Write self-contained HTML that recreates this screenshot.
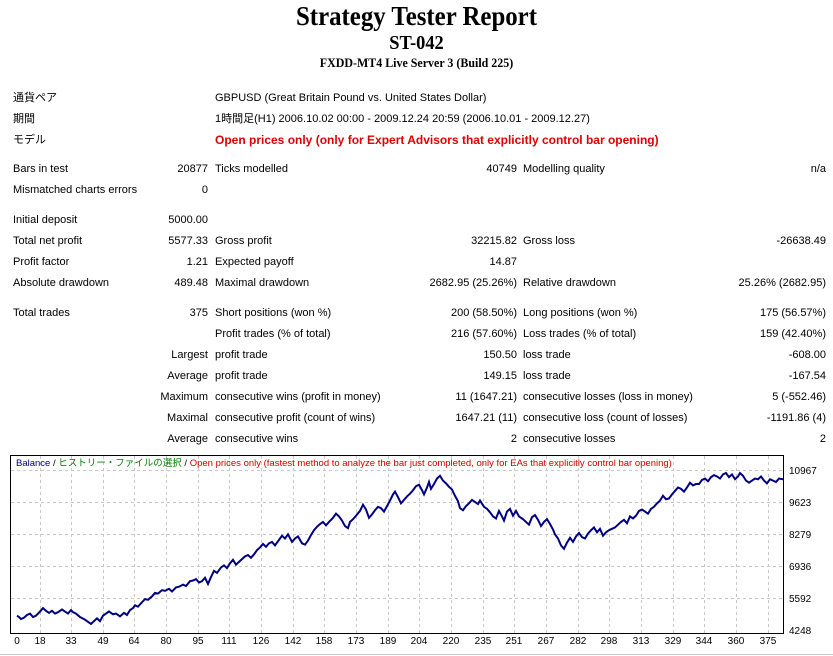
<!DOCTYPE html>
<html><head><meta charset="utf-8"><style>
body{margin:0;width:833px;height:656px;background:#fff;position:relative;overflow:hidden;font-family:"Liberation Sans","Noto Sans CJK JP",sans-serif;font-size:11px;color:#000}
.t{position:absolute;white-space:nowrap;line-height:13px}
.r{text-align:right}
.h{position:absolute;left:0;width:833px;text-align:center;font-family:"Liberation Serif",serif;font-weight:bold;white-space:nowrap}
</style></head><body>
<div class="h" style="top:1px;font-size:27px;line-height:30px;transform:scaleX(0.92)">Strategy Tester Report</div>
<div class="h" style="top:32px;font-size:20px;line-height:22px;transform:scaleX(0.92)">ST-042</div>
<div class="h" style="top:55px;font-size:13px;line-height:15px;transform:scaleX(0.92)">FXDD-MT4 Live Server 3 (Build 225)</div>

<div class="t" style="left:13px;top:92px">通貨ペア</div>
<div class="t" style="left:215px;top:92px">GBPUSD (Great Britain Pound vs. United States Dollar)</div>
<div class="t" style="left:13px;top:113px">期間</div>
<div class="t" style="left:215px;top:113px">1時間足(H1) 2006.10.02 00:00 - 2009.12.24 20:59 (2006.10.01 - 2009.12.27)</div>
<div class="t" style="left:13px;top:134px">モデル</div>
<div class="t" style="left:215px;top:134px;color:#e00000;font-weight:bold;font-size:12px">Open prices only (only for Expert Advisors that explicitly control bar opening)</div>

<div class="t" style="left:13px;top:163px">Bars in test</div><div class="t r" style="right:625px;top:163px">20877</div>
<div class="t" style="left:215px;top:163px">Ticks modelled</div><div class="t r" style="right:316px;top:163px">40749</div>
<div class="t" style="left:523px;top:163px">Modelling quality</div><div class="t r" style="right:7px;top:163px">n/a</div>
<div class="t" style="left:13px;top:184px">Mismatched charts errors</div><div class="t r" style="right:625px;top:184px">0</div>

<div class="t" style="left:13px;top:214px">Initial deposit</div><div class="t r" style="right:625px;top:214px">5000.00</div>
<div class="t" style="left:13px;top:235px">Total net profit</div><div class="t r" style="right:625px;top:235px">5577.33</div>
<div class="t" style="left:215px;top:235px">Gross profit</div><div class="t r" style="right:316px;top:235px">32215.82</div>
<div class="t" style="left:523px;top:235px">Gross loss</div><div class="t r" style="right:7px;top:235px">-26638.49</div>
<div class="t" style="left:13px;top:256px">Profit factor</div><div class="t r" style="right:625px;top:256px">1.21</div>
<div class="t" style="left:215px;top:256px">Expected payoff</div><div class="t r" style="right:316px;top:256px">14.87</div>
<div class="t" style="left:13px;top:277px">Absolute drawdown</div><div class="t r" style="right:625px;top:277px">489.48</div>
<div class="t" style="left:215px;top:277px">Maximal drawdown</div><div class="t r" style="right:316px;top:277px">2682.95 (25.26%)</div>
<div class="t" style="left:523px;top:277px">Relative drawdown</div><div class="t r" style="right:7px;top:277px">25.26% (2682.95)</div>

<div class="t" style="left:13px;top:307px">Total trades</div><div class="t r" style="right:625px;top:307px">375</div>
<div class="t" style="left:215px;top:307px">Short positions (won %)</div><div class="t r" style="right:316px;top:307px">200 (58.50%)</div>
<div class="t" style="left:523px;top:307px">Long positions (won %)</div><div class="t r" style="right:7px;top:307px">175 (56.57%)</div>
<div class="t" style="left:215px;top:328px">Profit trades (% of total)</div><div class="t r" style="right:316px;top:328px">216 (57.60%)</div>
<div class="t" style="left:523px;top:328px">Loss trades (% of total)</div><div class="t r" style="right:7px;top:328px">159 (42.40%)</div>
<div class="t r" style="right:625px;top:349px">Largest</div>
<div class="t" style="left:215px;top:349px">profit trade</div><div class="t r" style="right:316px;top:349px">150.50</div>
<div class="t" style="left:523px;top:349px">loss trade</div><div class="t r" style="right:7px;top:349px">-608.00</div>
<div class="t r" style="right:625px;top:370px">Average</div>
<div class="t" style="left:215px;top:370px">profit trade</div><div class="t r" style="right:316px;top:370px">149.15</div>
<div class="t" style="left:523px;top:370px">loss trade</div><div class="t r" style="right:7px;top:370px">-167.54</div>
<div class="t r" style="right:625px;top:391px">Maximum</div>
<div class="t" style="left:215px;top:391px">consecutive wins (profit in money)</div><div class="t r" style="right:316px;top:391px">11 (1647.21)</div>
<div class="t" style="left:523px;top:391px">consecutive losses (loss in money)</div><div class="t r" style="right:7px;top:391px">5 (-552.46)</div>
<div class="t r" style="right:625px;top:412px">Maximal</div>
<div class="t" style="left:215px;top:412px">consecutive profit (count of wins)</div><div class="t r" style="right:316px;top:412px">1647.21 (11)</div>
<div class="t" style="left:523px;top:412px">consecutive loss (count of losses)</div><div class="t r" style="right:7px;top:412px">-1191.86 (4)</div>
<div class="t r" style="right:625px;top:433px">Average</div>
<div class="t" style="left:215px;top:433px">consecutive wins</div><div class="t r" style="right:316px;top:433px">2</div>
<div class="t" style="left:523px;top:433px">consecutive losses</div><div class="t r" style="right:7px;top:433px">2</div>

<svg style="position:absolute;left:0;top:0" width="833" height="656">
<g stroke="#c8c8c8" stroke-dasharray="3,3" stroke-width="1">
<line x1="11" x2="783" y1="470.5" y2="470.5"/><line x1="11" x2="783" y1="502.5" y2="502.5"/><line x1="11" x2="783" y1="534.5" y2="534.5"/><line x1="11" x2="783" y1="566.5" y2="566.5"/><line x1="11" x2="783" y1="598.5" y2="598.5"/>
<line x1="40.5" x2="40.5" y1="456" y2="633"/><line x1="71.5" x2="71.5" y1="456" y2="633"/><line x1="103.5" x2="103.5" y1="456" y2="633"/><line x1="134.5" x2="134.5" y1="456" y2="633"/><line x1="166.5" x2="166.5" y1="456" y2="633"/><line x1="198.5" x2="198.5" y1="456" y2="633"/><line x1="229.5" x2="229.5" y1="456" y2="633"/><line x1="261.5" x2="261.5" y1="456" y2="633"/><line x1="293.5" x2="293.5" y1="456" y2="633"/><line x1="324.5" x2="324.5" y1="456" y2="633"/><line x1="356.5" x2="356.5" y1="456" y2="633"/><line x1="388.5" x2="388.5" y1="456" y2="633"/><line x1="419.5" x2="419.5" y1="456" y2="633"/><line x1="451.5" x2="451.5" y1="456" y2="633"/><line x1="483.5" x2="483.5" y1="456" y2="633"/><line x1="514.5" x2="514.5" y1="456" y2="633"/><line x1="546.5" x2="546.5" y1="456" y2="633"/><line x1="578.5" x2="578.5" y1="456" y2="633"/><line x1="609.5" x2="609.5" y1="456" y2="633"/><line x1="641.5" x2="641.5" y1="456" y2="633"/><line x1="673.5" x2="673.5" y1="456" y2="633"/><line x1="704.5" x2="704.5" y1="456" y2="633"/><line x1="736.5" x2="736.5" y1="456" y2="633"/><line x1="768.5" x2="768.5" y1="456" y2="633"/>
</g>
<rect x="10.5" y="455.5" width="773" height="178" fill="none" stroke="#000"/>
<polyline transform="matrix(1 0 0 0.689 0 192.6)" vector-effect="non-scaling-stroke" fill="none" stroke="#000080" stroke-width="2" points="17,614 19,616 21,619 24,617 27,613 30,611 33,616 36,614 40,608 43,603 46,607 49,610 52,607 55,611 58,609 62,605 65,608 68,611 71,606 73,609 76,611 80,616 84,619 88,623 91,626 94,622 97,618 100,622 103,614 106,611 109,608 113,612 116,611 120,615 124,610 127,613 130,606 133,603 135,599 138,601 141,596 145,590 148,591 152,586 155,581 158,582 162,577 165,578 169,575 172,579 176,573 179,572 183,569 186,571 190,564 193,563 196,561 199,566 202,564 205,559 208,568 211,558 214,549 217,552 221,544 224,541 227,545 230,538 233,533 236,540 239,536 242,532 245,528 248,526 251,530 254,525 257,519 260,515 263,510 266,514 269,509 272,507 275,512 279,504 282,498 285,502 288,496 292,507 295,502 298,499 302,509 305,511 308,505 311,497 314,490 317,485 320,481 323,478 326,483 329,478 333,472 336,466 339,470 342,476 345,484 348,487 350,478 353,474 356,469 360,462 363,453 366,460 369,472 372,467 375,461 378,456 381,458 384,463 387,455 390,447 393,438 395,434 398,442 401,451 404,446 407,441 410,437 413,432 416,426 419,424 422,432 424,438 427,428 429,420 431,430 434,423 437,415 440,411 443,418 446,422 449,427 452,431 455,440 458,448 460,458 463,461 466,455 469,451 472,446 475,449 478,452 480,447 484,456 487,459 490,464 493,470 496,473 499,462 502,470 504,476 507,463 510,459 513,469 516,462 519,470 523,474 526,478 529,482 532,471 535,468 538,475 541,484 544,478 547,474 550,481 553,489 555,496 558,502 561,512 564,517 567,508 570,501 573,507 576,499 579,494 582,500 585,502 588,495 591,490 594,486 597,493 600,488 603,498 606,493 609,490 612,488 615,486 618,482 621,478 624,475 627,480 630,470 633,473 636,469 639,462 642,460 645,463 648,466 651,459 654,456 657,451 660,447 663,440 666,445 669,444 672,438 675,433 678,428 681,430 684,434 687,428 690,421 693,425 696,423 699,423 702,417 705,415 708,419 711,413 714,410 717,412 720,415 723,409 726,407 729,413 732,409 735,416 738,412 740,407 743,411 746,418 749,421 752,418 755,415 758,416 761,412 764,418 767,422 770,416 773,418 776,420 779,415 783,416"/>
<g font-family="Liberation Sans, sans-serif" font-size="10" fill="#000">
<text x="789" y="474">10967</text><text x="789" y="506">9623</text><text x="789" y="538">8279</text><text x="789" y="570">6936</text><text x="789" y="602">5592</text><text x="789" y="634">4248</text>
<g text-anchor="middle">
<text x="17" y="644">0</text><text x="40" y="644">18</text><text x="71" y="644">33</text><text x="103" y="644">49</text><text x="134" y="644">64</text><text x="166" y="644">80</text><text x="198" y="644">95</text><text x="229" y="644">111</text><text x="261" y="644">126</text><text x="293" y="644">142</text><text x="324" y="644">158</text><text x="356" y="644">173</text><text x="388" y="644">189</text><text x="419" y="644">204</text><text x="451" y="644">220</text><text x="483" y="644">235</text><text x="514" y="644">251</text><text x="546" y="644">267</text><text x="578" y="644">282</text><text x="609" y="644">298</text><text x="641" y="644">313</text><text x="673" y="644">329</text><text x="704" y="644">344</text><text x="736" y="644">360</text><text x="768" y="644">375</text>
</g></g>
<text x="16" y="466" font-family="Liberation Sans, 'Noto Sans CJK JP', sans-serif" font-size="9.5"><tspan fill="#000080">Balance</tspan><tspan fill="#000"> / </tspan><tspan fill="#008000">ヒストリー・ファイルの選択</tspan><tspan fill="#000"> / </tspan><tspan fill="#d00000">Open prices only (fastest method to analyze the bar just completed, only for EAs that explicitly control bar opening)</tspan></text>
<line x1="0" x2="833" y1="654.5" y2="654.5" stroke="#c8c8c8"/>
</svg>
</body></html>
